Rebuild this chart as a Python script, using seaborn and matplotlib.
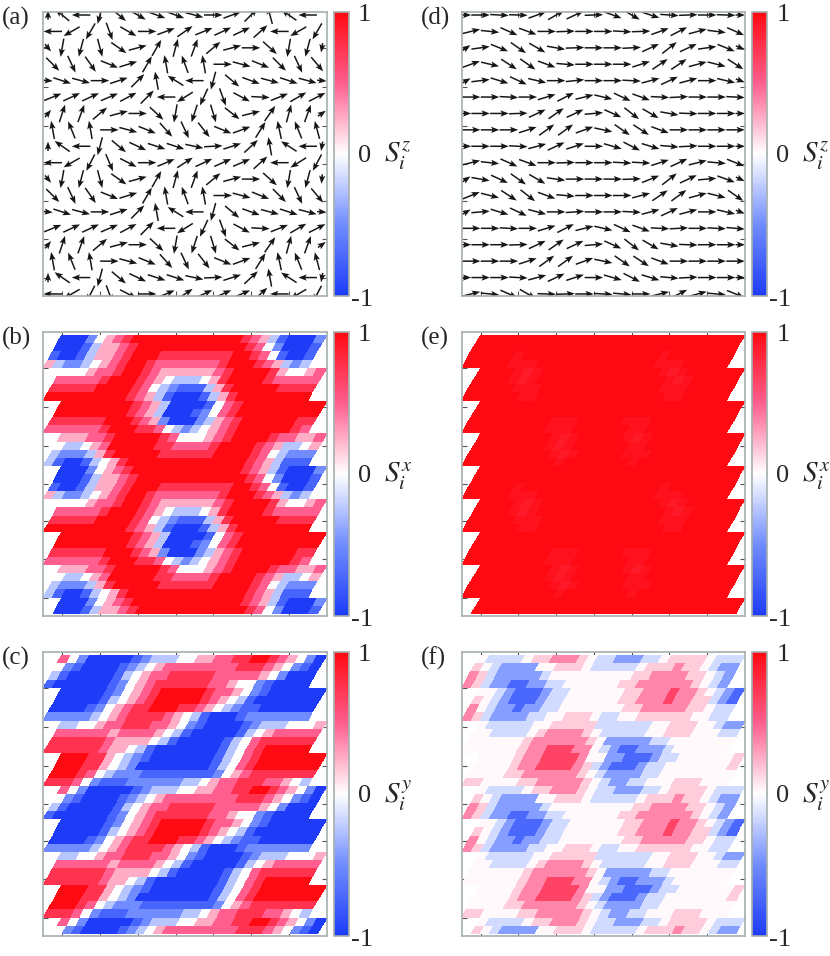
import numpy as np
import matplotlib
matplotlib.use("Agg")
import matplotlib.pyplot as plt
import seaborn as sns
from matplotlib.cm import ScalarMappable
from matplotlib.colors import Normalize
from matplotlib.transforms import Affine2D

# arrow directions in degrees, one list per arrow row
ANGLES_A = [
    [90, 140, 180, -105, -40, -30, -20, -20, -15, 0, 20, 45, 105, 145, 180],
    [180, -150, -120, -70, -30, 0, 20, 35, 22, 25, 25, 42, 180, -150, -120],
    [-50, -100, -105, -75, -35, 15, 60, 75, 70, 40, 15, 0, -42, -100, -105, -100],
    [-45, -65, -55, -22, 17, 60, 100, 110, 100, 0, -15, -22, -45, -65, -50],
    [-5, -18, -15, 0, 18, 45, 100, 148, 180, -105, -40, -20, -15, -18, -15, -5],
    [22, 25, 25, 23, 28, 45, 180, -148, -115, -70, -28, -3, 22, 30, 27],
    [50, 72, 70, 40, 15, 0, -43, -100, -108, -73, -38, 14, 55, 75, 70, 35],
    [100, 112, 100, 0, -15, -22, -48, -65, -52, -22, 20, 58, 102, 112, 105],
    [90, 145, 180, -105, -40, -25, -18, -18, -12, 3, 18, 43, 100, 147, 180, -100],
    [180, -150, -117, -67, -27, 0, 23, 33, 25, 24, 23, 42, 180, -148, -118],
    [-50, -100, -105, -75, -35, 15, 60, 75, 70, 40, 15, 0, -42, -100, -105, -95],
    [-45, -65, -55, -22, 17, 60, 100, 110, 100, 0, -15, -22, -45, -65, -50],
    [-5, -18, -15, 0, 18, 45, 100, 148, 180, -105, -40, -20, -15, -18, -15, -5],
    [22, 25, 25, 23, 28, 45, 180, -148, -115, -70, -28, -3, 22, 30, 27],
    [50, 72, 70, 40, 15, 0, -43, -100, -108, -73, -38, 14, 55, 75, 70, 35],
    [100, 112, 100, 0, -15, -22, -48, -65, -52, -22, 20, 58, 102, 112, 105],
    [90, 145, 180, -105, -40, -25, -18, -18, -12, 3, 18, 43, 100, 147, 180, -100],
    [180, -150, -117, -70, -27, 0, 23, 33, 25, 24, 23, 42, 180, -150, -118],
]
ANGLES_D = [
    [0, 0, -3, -2, 20, 30, 25, 2, -20, -30, -18, -4, 2, 0, -2, 0],
    [14, -6, -24, -20, 0, 2, 0, 0, -3, 2, 20, 27, 15, -7, -24],
    [35, 8, -22, -35, -30, -10, 2, 0, 0, 3, 25, 38, 25, 8, -22, -25],
    [20, -13, -33, -35, -20, -5, 0, 0, 0, 18, 34, 34, 15, -14, -33],
    [30, 7, -17, -25, -13, 0, 6, 0, 0, -3, 15, 25, 15, 0, -13, -20],
    [0, 0, -3, 0, 17, 27, 14, -13, -25, -20, -3, 3, 0, 0, -3],
    [0, 0, 0, 2, 25, 35, 25, 5, -24, -38, -30, -10, -2, 0, 0, 0],
    [0, 0, 0, 18, 36, 36, 20, -12, -35, -33, -20, 0, 0, 0, 0],
    [0, 0, 0, -3, 15, 25, 18, 0, -16, -27, -17, -5, 3, 0, 0, 0],
    [14, -6, -24, -20, 0, 2, 0, 0, -3, -3, 18, 25, 14, -5, -22],
    [35, -10, -25, -35, -30, -8, 0, 0, 0, 2, 22, 38, 25, 5, -20, -25],
    [22, -14, -33, -38, -20, -5, 0, 0, 0, 15, 34, 36, 15, -14, -35],
    [30, 5, -17, -25, -15, 0, 4, 0, 0, -3, 15, 25, 15, 0, -13, -20],
    [0, 0, -3, 0, 17, 27, 14, -13, -25, -20, -3, 3, 0, -3, -5],
    [0, 0, 0, 2, 25, 35, 25, 5, -24, -38, -30, -10, -2, 0, 0, 0],
    [0, 0, 0, 18, 36, 36, 20, -12, -35, -33, -20, 0, 0, 0, 0],
    [0, 0, 0, -3, 15, 25, 18, 0, -16, -27, -17, -5, 3, 0, 0, 0],
    [14, -6, -24, -30, -2, 2, 0, -3, -5, 0, 14, 27, 15, -5, -22],
]

# cell values, one digit per cell, decoded through the level lists below
CELLS_B = [
    "00024567888888888888765310002", "00013556788888888888876420001",
    "10013556788877777777887641001", "53223456788766666667888765323",
    "44456678876555555678888754456", "66666788876543334578888766666",
    "77777888876432111357888887777", "88888888876531000135788888888",
    "88888888765300001467888888888", "88888888765300012467888888888",
    "77777788876520002356788888877", "66666678887764323456788888876",
    "55566788888764445678888766556", "43345688888776666788887653345",
    "32223578888877777788887643222", "31001345788888888888887653111",
    "00024567888888888888765310002", "00013556788888888888876420001",
    "10013556788877777777887641001", "53223456788766666667888765323",
    "44456678876555555678888754456", "66666788876543334578888766666",
    "77777888876432111357888887777", "88888888876531000135788888888",
    "88888888765300001467888888888", "88888888765300012467888888888",
    "77777788876520002356788888877", "66666678887764323456788888876",
    "55566788888764445678888766556", "43345688888776666788887653345",
    "32223578888877777788887643222", "31001345788888888888887653111",
    "00024567888888888888765310002", "00013556788888888888876420001",
]
CELLS_C = [
    "64200000123334455667788765420", "42100001234566666666777654210",
    "31000001345667777766666542000", "10000001245677777766544210000",
    "00000124567888887665421000000", "00000134567888887654310000000",
    "00001245677888776543211000000", "22222345677776543100012222222",
    "33445667776654210000123334445", "66666656666543100000134566666",
    "77777765555431000001346777777", "77777765543100000001346788888",
    "88877543210000000134678888888", "88877543200000000134678888888",
    "88876432221111111124567777777", "77764211122222233456677766543",
    "64200000123334455667788765420", "42100001234566666666777654210",
    "31000001345667777766666542000", "10000001245677777766544210000",
    "00000124567888887665421000000", "00000134567888887654310000000",
    "00001245677888776543211000000", "22222345677776543100012222222",
    "33445667776654210000123334445", "66666656666543100000134566666",
    "77777765555431000001346777777", "77777765543100000001346788888",
    "88877543210000000134678888888", "88877543200000000134678888888",
    "88876432221111111124567777777", "77764211122222233456677766543",
    "64200000123334455667788765420", "42100001234566666666777654210",
]
CELLS_E = [
    "88888888888888888888888888888", "88888888888888888888888888888",
    "88888788888888888888878888888", "88888777888888888888877788888",
    "88887678888888888888767888888", "88887678888888888888876788888",
    "88888777888888888888877788888", "88888877888888888888887788888",
    "88888888888888888888888888888", "88888888888888888888888888888",
    "88888888877788888777888888888", "88888888877788888877888888888",
    "88888888767888887678888888888", "88888888767888888778888888888",
    "88888888876788888777888888888", "88888888887888888878888888888",
    "88888888888888888888888888888", "88888888888888888888888888888",
    "88888788888888888888878888888", "88888777888888888888877788888",
    "88887678888888888888767888888", "88887678888888888888876788888",
    "88888777888888888888877788888", "88888877888888888888887788888",
    "88888888888888888888888888888", "88888888888888888888888888888",
    "88888888877788888777888888888", "88888888877788888877888888888",
    "88888888767888887678888888888", "88888888767888888778888888888",
    "88888888876788888777888888888", "88888888887888888878888888888",
    "88888888888888888888888888888", "88888888888888888888888888888",
]
CELLS_F = [
    "43333455666543322233455554333", "54322224455543333345556554322",
    "65322222344444444455666655432", "65322112233444444556666665432",
    "44321112334444445566676654321", "54321112334444445566676655321",
    "64322122334444444556666655433", "65322223344555433445555554433",
    "43333344555553333334455544322", "44333345666654333334455544433",
    "44444456666665422222334444444", "44444456677766432112223444444",
    "44445667777644221112334444445", "44445667777653211123344444445",
    "44445566666654322223344444444", "55444455666665432233444555444",
    "43333455666543322233455554333", "54322224455543333345556554322",
    "65322222344444444455666655432", "65322112233444444556666665432",
    "44321112334444445566676654321", "54321112334444445566676655321",
    "64322122334444444556666655433", "65322223344555433445555554433",
    "43333344555553333334455544322", "44333345666654333334455544433",
    "44444456666665422222334444444", "44444456677766432112223444444",
    "44445667777644221112334444445", "44445667777653211123344444445",
    "44445566666654322223344444444", "55444455666665432233444555444",
    "43333455666543322233455554333", "54322224455543333345556554322",
]
LEVELS = [-1.0, -0.75, -0.5, -0.25, 0.0, 0.25, 0.5, 0.75, 1.0]
LEVELS_E = [-1.0, -0.75, -0.5, -0.25, 0.0, 0.25, 0.9, 0.95, 1.0]
LEVELS_F = [-1.0, -0.72, -0.42, -0.16, 0.02, 0.16, 0.38, 0.66, 1.0]

XTICKS = [0, 4, 8, 12, 16, 20, 24]
YTICKS = [4.08, 8.78, 13.47, 18.2, 22.7, 27.3, 32.0]
CBAR_TICKS = [-0.5, 0, 0.5]

W, H = 830, 956
COL_LEFT = [43.3, 461.7]
ROW_TOP = [12.3, 332.3, 652.3]
SIZE = 283.3
FRAME = "#a6aeae"
TICK = "#555555"

sns.set_style("white")
plt.rcParams["font.family"] = ["Liberation Serif", "DejaVu Serif"]
plt.rcParams["mathtext.fontset"] = "stix"

cmap = sns.blend_palette(["#1e3cf8", "#6f8cff", "#ffffff", "#ff5f8f", "#ff0a12"],
                         n_colors=256, as_cmap=True)


def add_px_axes(fig, x, y, w, h):
    return fig.add_axes([x / W, 1 - (y + h) / H, w / W, h / H])


def decode(rows, levels):
    return np.array([[levels[int(ch)] for ch in row] for row in rows])


def draw_field(ax, rows, levels):
    # the lattice is sheared, and jumps back every 4 rows
    values = decode(rows, levels)
    for start in range(0, values.shape[0], 4):
        block = values[start:start + 4]
        shear = Affine2D.from_values(28 / block.shape[1], 0, -0.5, 1, 0, start)
        sns.heatmap(block, ax=ax, cmap=cmap, vmin=-1, vmax=1, cbar=False,
                    xticklabels=False, yticklabels=False,
                    transform=shear + ax.transData)


def draw_arrows(ax, angle_rows):
    xs, ys, us, vs = [], [], [], []
    for r, angles in enumerate(angle_rows):
        for i, angle in enumerate(angles):
            x = -2 + 2 * i if r % 2 == 0 else -1 + 2 * i
            length = 18.5
            # the arrows on the edge columns are short
            if r % 2 == 0 and i == 0:
                x, length = x + 0.5, 9.5
            if r % 2 == 0 and i == 15:
                x, length = x - 0.5, 9.5
            xs.append(x)
            ys.append(2 * r)
            us.append(length * np.cos(np.radians(angle)) / (SIZE / 30))
            vs.append(-length * np.sin(np.radians(angle)) / (SIZE / 34.53))
    ax.quiver(xs, ys, us, vs, angles="xy", scale_units="xy", scale=1, pivot="mid",
              units="dots", width=1.5, headwidth=4.2, headlength=5.5,
              headaxislength=4.6, color="#161616", zorder=3)


def finish_axes(ax):
    ax.set_xlim(-2, 28)
    ax.set_ylim(34.2, -0.33)
    ax.set_xticks(XTICKS)
    ax.set_yticks(YTICKS)
    ax.set_xticklabels([])
    ax.set_yticklabels([])
    ax.set_xlabel("")
    ax.set_ylabel("")
    ax.tick_params(direction="in", length=3.5, width=0.8, color=TICK,
                   top=True, bottom=True, left=True, right=True)
    for spine in ax.spines.values():
        spine.set_visible(True)
        spine.set_color(FRAME)
        spine.set_linewidth(1.2)
        spine.set_zorder(4)


def draw_cbar(fig, x, y, comp):
    cax = add_px_axes(fig, x + SIZE + 7, y, 15, SIZE)
    cbar = fig.colorbar(ScalarMappable(Normalize(-1, 1), cmap), cax=cax)
    cbar.set_ticks(CBAR_TICKS, labels=[])
    cax.tick_params(direction="in", length=4.5, width=0.8, color=TICK, left=True, right=True)
    cbar.outline.set_edgecolor(FRAME)
    cbar.outline.set_linewidth(1.2)
    right = x + SIZE + 22
    fig.text((right + 16) / W, 1 - (y + 3) / H, "1", fontsize=19, ha="center", va="center")
    fig.text((right + 16) / W, 1 - (y + SIZE / 2 + 2) / H, "0", fontsize=19, ha="center", va="center")
    fig.text((right + 13) / W, 1 - (y + SIZE + 4) / H, "-1", fontsize=19, ha="center", va="center")
    fig.text((right + 35) / W, 1 - (y + SIZE / 2 + 2) / H, f"$S_i^{comp}$", fontsize=21,
             ha="left", va="center")


PANELS = [
    ("(a)", 0, 0, "z", ANGLES_A, None),
    ("(b)", 0, 1, "x", CELLS_B, LEVELS),
    ("(c)", 0, 2, "y", CELLS_C, LEVELS),
    ("(d)", 1, 0, "z", ANGLES_D, None),
    ("(e)", 1, 1, "x", CELLS_E, LEVELS_E),
    ("(f)", 1, 2, "y", CELLS_F, LEVELS_F),
]

fig = plt.figure(figsize=(W / 100, H / 100), dpi=100)
for label, col, row, comp, data, levels in PANELS:
    x, y = COL_LEFT[col], ROW_TOP[row]
    ax = add_px_axes(fig, x, y, SIZE, SIZE)
    if levels is None:
        draw_arrows(ax, data)
    else:
        draw_field(ax, data, levels)
    finish_axes(ax)
    draw_cbar(fig, x, y, comp)
    fig.text((x - 41) / W, 1 - (y + 6) / H, label, fontsize=18, ha="left", va="center")

fig.savefig("out.png", dpi=100)
